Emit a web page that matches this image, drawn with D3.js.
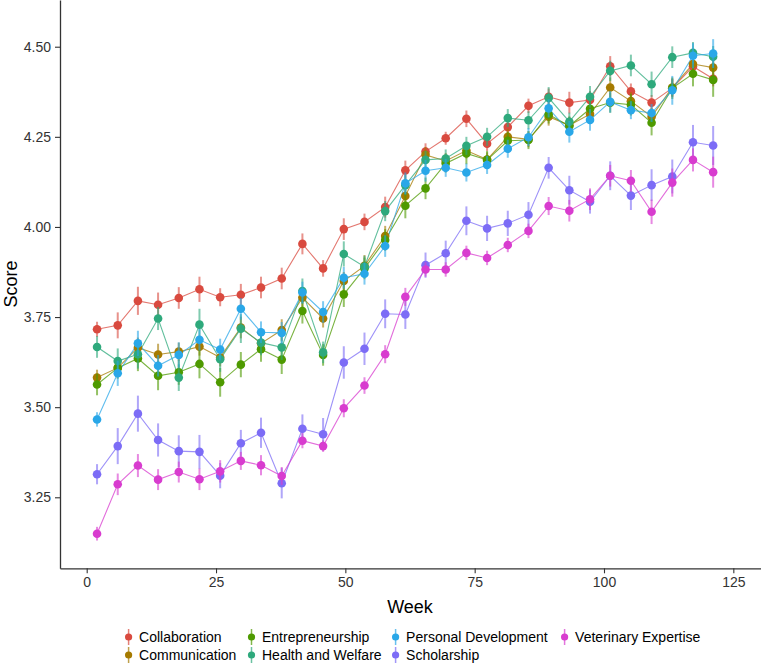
<!DOCTYPE html>
<html>
<head>
<meta charset="utf-8">
<script src="https://cdn.jsdelivr.net/npm/d3@7"></script>
<style>
  html, body { margin: 0; padding: 0; background: #fff; }
  svg { display: block; font-family: "Liberation Sans", Arial, sans-serif; }
</style>
</head>
<body>
<svg id="chart" width="761" height="664"></svg>
<script>
const weeks = [2.0, 6.0, 9.9, 13.8, 17.8, 21.8, 25.8, 29.8, 33.7, 37.7, 41.7, 45.7, 49.7, 53.7, 57.7, 61.6, 65.5, 69.4, 73.4, 77.4, 81.4, 85.4, 89.3, 93.3, 97.3, 101.2, 105.2, 109.2, 113.2, 117.2, 121.1];

const seriesNames = ["Collaboration", "Communication", "Entrepreneurship", "Health and Welfare", "Personal Development", "Scholarship", "Veterinary Expertise"];

const collaboration = [3.716, 3.727, 3.795, 3.784, 3.803, 3.827, 3.805, 3.812, 3.832, 3.857, 3.953, 3.885, 3.994, 4.014, 4.055, 4.157, 4.209, 4.246, 4.300, 4.231, 4.277, 4.336, 4.361, 4.345, 4.352, 4.446, 4.376, 4.345, 4.385, 4.445, 4.411];
const communication = [3.582, 3.609, 3.665, 3.646, 3.654, 3.668, 3.638, 3.721, 3.677, 3.714, 3.804, 3.746, 3.850, 3.892, 3.975, 4.086, 4.200, 4.183, 4.212, 4.187, 4.250, 4.243, 4.306, 4.282, 4.313, 4.387, 4.349, 4.306, 4.387, 4.452, 4.442];
const entrepreneurship = [3.563, 3.609, 3.635, 3.587, 3.597, 3.620, 3.569, 3.618, 3.661, 3.632, 3.767, 3.645, 3.813, 3.885, 3.964, 4.059, 4.107, 4.176, 4.204, 4.186, 4.239, 4.241, 4.312, 4.280, 4.328, 4.345, 4.339, 4.289, 4.385, 4.425, 4.408];
const healthWelfare = [3.667, 3.628, 3.647, 3.746, 3.582, 3.729, 3.633, 3.718, 3.679, 3.666, 3.822, 3.652, 3.925, 3.890, 4.044, 4.116, 4.186, 4.190, 4.225, 4.250, 4.302, 4.296, 4.358, 4.292, 4.361, 4.433, 4.448, 4.396, 4.471, 4.483, 4.472];
const personalDev = [3.466, 3.594, 3.677, 3.615, 3.645, 3.687, 3.660, 3.773, 3.708, 3.706, 3.818, 3.764, 3.859, 3.870, 3.947, 4.121, 4.156, 4.164, 4.151, 4.172, 4.217, 4.249, 4.329, 4.264, 4.297, 4.347, 4.324, 4.316, 4.379, 4.475, 4.481];
const scholarship = [3.314, 3.392, 3.482, 3.409, 3.378, 3.376, 3.310, 3.400, 3.429, 3.289, 3.440, 3.425, 3.624, 3.662, 3.759, 3.757, 3.894, 3.927, 4.017, 3.996, 4.010, 4.034, 4.164, 4.102, 4.070, 4.142, 4.087, 4.116, 4.140, 4.235, 4.226];
const veterinary = [3.149, 3.286, 3.338, 3.299, 3.320, 3.300, 3.322, 3.351, 3.339, 3.309, 3.407, 3.392, 3.497, 3.560, 3.647, 3.806, 3.882, 3.882, 3.928, 3.914, 3.950, 3.989, 4.058, 4.045, 4.077, 4.142, 4.128, 4.042, 4.123, 4.186, 4.152];

const errCollaboration = [0.021, 0.036, 0.039, 0.034, 0.030, 0.035, 0.025, 0.030, 0.030, 0.030, 0.029, 0.023, 0.030, 0.023, 0.029, 0.027, 0.023, 0.018, 0.023, 0.020, 0.020, 0.020, 0.023, 0.030, 0.025, 0.028, 0.022, 0.021, 0.025, 0.020, 0.021];
const errCommunication = [0.022, 0.025, 0.028, 0.030, 0.025, 0.025, 0.025, 0.030, 0.025, 0.030, 0.028, 0.025, 0.025, 0.030, 0.028, 0.028, 0.022, 0.022, 0.022, 0.020, 0.022, 0.022, 0.025, 0.025, 0.025, 0.028, 0.025, 0.025, 0.025, 0.025, 0.025];
const errEntrepreneurship = [0.030, 0.030, 0.035, 0.040, 0.035, 0.040, 0.040, 0.035, 0.035, 0.040, 0.035, 0.030, 0.035, 0.030, 0.030, 0.035, 0.030, 0.025, 0.030, 0.025, 0.025, 0.025, 0.025, 0.025, 0.025, 0.028, 0.030, 0.035, 0.030, 0.035, 0.047];
const errHealthWelfare = [0.030, 0.035, 0.040, 0.032, 0.037, 0.044, 0.035, 0.040, 0.035, 0.035, 0.035, 0.030, 0.035, 0.030, 0.028, 0.028, 0.025, 0.025, 0.025, 0.025, 0.025, 0.025, 0.030, 0.025, 0.030, 0.028, 0.030, 0.035, 0.030, 0.030, 0.030];
const errPersonalDev = [0.020, 0.035, 0.035, 0.030, 0.035, 0.030, 0.030, 0.030, 0.030, 0.030, 0.030, 0.030, 0.030, 0.030, 0.030, 0.030, 0.030, 0.025, 0.025, 0.025, 0.025, 0.025, 0.025, 0.030, 0.030, 0.030, 0.025, 0.025, 0.040, 0.035, 0.040];
const errScholarship = [0.028, 0.050, 0.050, 0.046, 0.044, 0.047, 0.035, 0.037, 0.042, 0.042, 0.040, 0.045, 0.045, 0.045, 0.040, 0.040, 0.035, 0.035, 0.040, 0.035, 0.035, 0.035, 0.030, 0.040, 0.033, 0.040, 0.040, 0.044, 0.047, 0.048, 0.054];
const errVeterinary = [0.019, 0.030, 0.032, 0.029, 0.029, 0.030, 0.031, 0.025, 0.028, 0.025, 0.021, 0.016, 0.025, 0.023, 0.025, 0.025, 0.020, 0.020, 0.020, 0.020, 0.020, 0.020, 0.025, 0.030, 0.030, 0.030, 0.030, 0.034, 0.039, 0.032, 0.043];

const seriesValues = [collaboration, communication, entrepreneurship, healthWelfare, personalDev, scholarship, veterinary];
const seriesErrors = [errCollaboration, errCommunication, errEntrepreneurship, errHealthWelfare, errPersonalDev, errScholarship, errVeterinary];
const seriesColors = ["#D94A3F", "#A57A00", "#4E9A00", "#2EA97C", "#29A7E8", "#7C6CF6", "#D83CCF"];

const xTicks = [0, 25, 50, 75, 100, 125];
const yTicks = [3.25, 3.50, 3.75, 4.00, 4.25, 4.50];

const svg = d3.select("#chart");

const x = d3.scaleLinear().domain([-5.16, 130.35]).range([60, 761]);
const y = d3.scaleLinear().domain([3.053, 4.6296]).range([568.3, 0]);

const data = seriesNames.map((name, i) => ({
  name, color: seriesColors[i],
  pts: weeks.map((w, j) => ({ w, v: seriesValues[i][j], e: seriesErrors[i][j] }))
}));

// Axes
const xAxis = svg.append("g").attr("transform", "translate(0,568.3)")
  .call(d3.axisBottom(x).tickValues(xTicks).tickSize(5).tickSizeOuter(0).tickPadding(4));
const yAxis = svg.append("g").attr("transform", "translate(60,0)")
  .call(d3.axisLeft(y).tickValues(yTicks).tickFormat(d3.format(".2f")).tickSize(5).tickSizeOuter(0).tickPadding(4));
[xAxis, yAxis].forEach(a => {
  a.select(".domain").attr("stroke", "#333").attr("stroke-width", 1.3);
  a.selectAll(".tick line").attr("stroke", "#333").attr("stroke-width", 1.1);
  a.selectAll(".tick text").attr("fill", "#333").style("font-size", "14px")
    .style("font-family", "'Liberation Sans', Arial, sans-serif");
});

// Axis titles
svg.append("text").attr("x", 410).attr("y", 613).attr("text-anchor", "middle")
  .style("font-size", "18px").attr("fill", "#000").text("Week");
svg.append("text").attr("transform", "translate(17,284) rotate(-90)").attr("text-anchor", "middle")
  .style("font-size", "18px").attr("fill", "#000").text("Score");

const line = d3.line().x(d => x(d.w)).y(d => y(d.v));
const plot = svg.append("g");

data.forEach(s => {
  plot.append("path").datum(s.pts).attr("d", line)
    .attr("fill", "none").attr("stroke", s.color).attr("stroke-width", 1.1).attr("opacity", 0.75);
});
data.forEach(s => {
  const g = plot.append("g");
  g.selectAll("line").data(s.pts).join("line")
    .attr("x1", d => x(d.w)).attr("x2", d => x(d.w))
    .attr("y1", d => y(d.v - d.e)).attr("y2", d => y(d.v + d.e))
    .attr("stroke", s.color).attr("stroke-width", 2).attr("opacity", 0.6);
  g.selectAll("circle").data(s.pts).join("circle")
    .attr("cx", d => x(d.w)).attr("cy", d => y(d.v)).attr("r", 4.3)
    .attr("fill", s.color);
});

// Legend
const legendCols = [128.6, 251.5, 395.6, 564.6];
const legendRows = [637, 655];
const legendPos = [[0,0],[0,1],[1,0],[1,1],[2,0],[2,1],[3,0]];
data.forEach((s, i) => {
  const [c, r] = legendPos[i];
  const g = svg.append("g").attr("transform", `translate(${legendCols[c]},${legendRows[r]})`);
  g.append("line").attr("x1", 0).attr("x2", 0).attr("y1", -8).attr("y2", 8)
    .attr("stroke", s.color).attr("stroke-width", 1.5).attr("opacity", 0.7);
  g.append("circle").attr("r", 3.6).attr("fill", s.color);
  g.append("text").attr("x", 10.5).attr("y", 0).attr("dy", "0.35em")
    .style("font-size", "14px").attr("fill", "#000").text(s.name);
});
</script>
</body>
</html>
